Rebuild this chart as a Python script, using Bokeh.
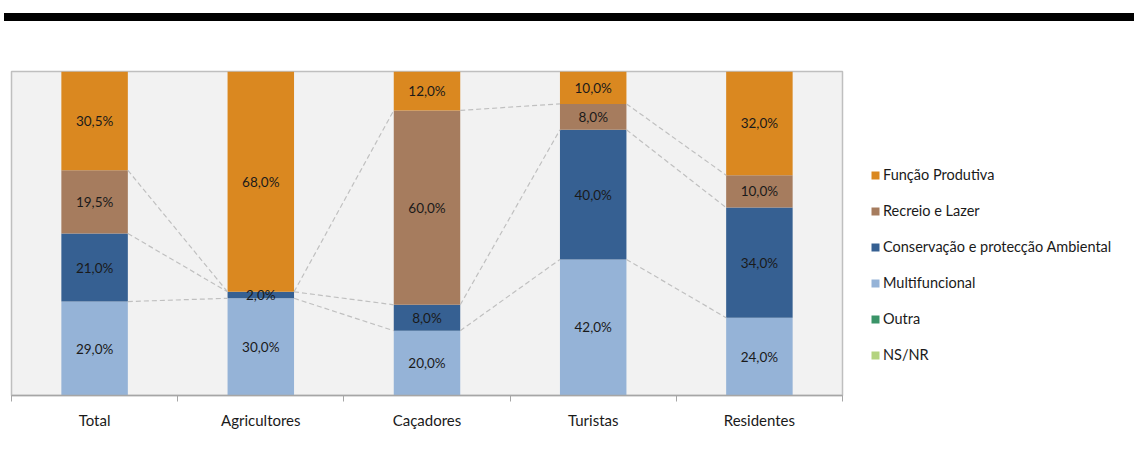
from bokeh.plotting import figure
from bokeh.models import ColumnDataSource, FixedTicker, Legend, LegendItem, Div, Range1d
from bokeh.layouts import column
from bokeh.core.properties import value
from bokeh.embed import file_html
from bokeh.resources import INLINE

categories = ["Total", "Agricultores", "Caçadores", "Turistas", "Residentes"]
multifuncional = [29.0, 30.0, 20.0, 42.0, 24.0]
conservacao = [21.0, 2.0, 8.0, 40.0, 34.0]
recreio = [19.5, 0.0, 60.0, 8.0, 10.0]
funcao = [30.5, 68.0, 12.0, 10.0, 32.0]
outra = [0.0, 0.0, 0.0, 0.0, 0.0]
nsnr = [0.0, 0.0, 0.0, 0.0, 0.0]

series_names = ["Multifuncional", "Conservação e protecção Ambiental", "Recreio e Lazer",
                "Função Produtiva", "Outra", "NS/NR"]
series_vals = [multifuncional, conservacao, recreio, funcao, outra, nsnr]
colors = ["#95B3D7", "#366092", "#A67C5E", "#DA8820", "#3A9468", "#B3D37F"]

FONT = "Lato"
BW = 0.4
xs = [i + 0.5 for i in range(len(categories))]

data = {"x": xs}
keys = ["s%d" % k for k in range(len(series_vals))]
for k, vals in zip(keys, series_vals):
    data[k] = vals
src = ColumnDataSource(data)

p = figure(frame_width=831, frame_height=324, output_backend="svg", toolbar_location=None,
           x_range=Range1d(0, len(categories)), y_range=Range1d(0, 100),
           min_border_left=11, min_border_top=50, min_border_bottom=55, min_border_right=10)
p.background_fill_color = "#F2F2F2"
p.border_fill_color = "white"
p.outline_line_color = "#BFBFBF"
p.outline_line_width = 1.5
p.xgrid.visible = False
p.ygrid.visible = False
p.yaxis.visible = False

rs = p.vbar_stack(keys, x="x", width=BW, color=colors, source=src, line_color=None)

# series lines
cum = []
for i in range(len(categories)):
    c, acc = [], 0.0
    for vals in series_vals[:3]:
        acc += vals[i]
        c.append(acc)
    cum.append(c)
x0, y0, x1, y1 = [], [], [], []
for i in range(len(categories) - 1):
    for k in range(3):
        x0.append(xs[i] + BW / 2)
        x1.append(xs[i + 1] - BW / 2)
        y0.append(cum[i][k])
        y1.append(cum[i + 1][k])
p.segment(x0, y0, x1, y1, line_color="#C0C0C0", line_width=1.2, line_dash="5 3")

# value labels
lx, ly, lt = [], [], []
for i in range(len(categories)):
    acc = 0.0
    for vals in series_vals[:4]:
        v = vals[i]
        if v > 0:
            lx.append(xs[i])
            ly.append(acc + v / 2)
            lt.append(("%.1f" % v).replace(".", ",") + "%")
        acc += v
p.text(lx, ly, text=lt, text_align="center", text_baseline="middle",
       text_font=value(FONT), text_font_size="13.5px", text_color="#1A1A1A")

ax = p.xaxis[0]
ax.ticker = FixedTicker(ticks=xs, minor_ticks=list(range(len(categories) + 1)))
ax.major_label_overrides = {x: c for x, c in zip(xs, categories)}
ax.major_tick_line_color = None
ax.major_tick_out = 0
ax.major_tick_in = 0
ax.minor_tick_out = 6
ax.minor_tick_in = 0
ax.minor_tick_line_color = "#A6A6A6"
ax.axis_line_color = "#A6A6A6"
ax.axis_line_width = 1.5
ax.major_label_standoff = 9
ax.major_label_text_font = FONT
ax.major_label_text_font_size = "15px"
ax.major_label_text_color = "#1A1A1A"

order = [3, 2, 1, 0, 4, 5]
items = [LegendItem(label=series_names[j], renderers=[rs[j]]) for j in order]
legend = Legend(items=items, location=(28, 32), border_line_color=None,
                background_fill_alpha=0, glyph_width=10, glyph_height=10,
                label_height=10, spacing=19, label_text_font=FONT,
                label_text_font_size="14.5px", label_text_color="#1A1A1A",
                label_standoff=3, padding=0, margin=0)
p.add_layout(legend, "right")

bar = Div(width=1130, height=8, styles={"background-color": "black"}, margin=(13, 0, 0, 4))
layout = column(bar, p, spacing=0)

open("out.html", "w").write(file_html(layout, INLINE))
